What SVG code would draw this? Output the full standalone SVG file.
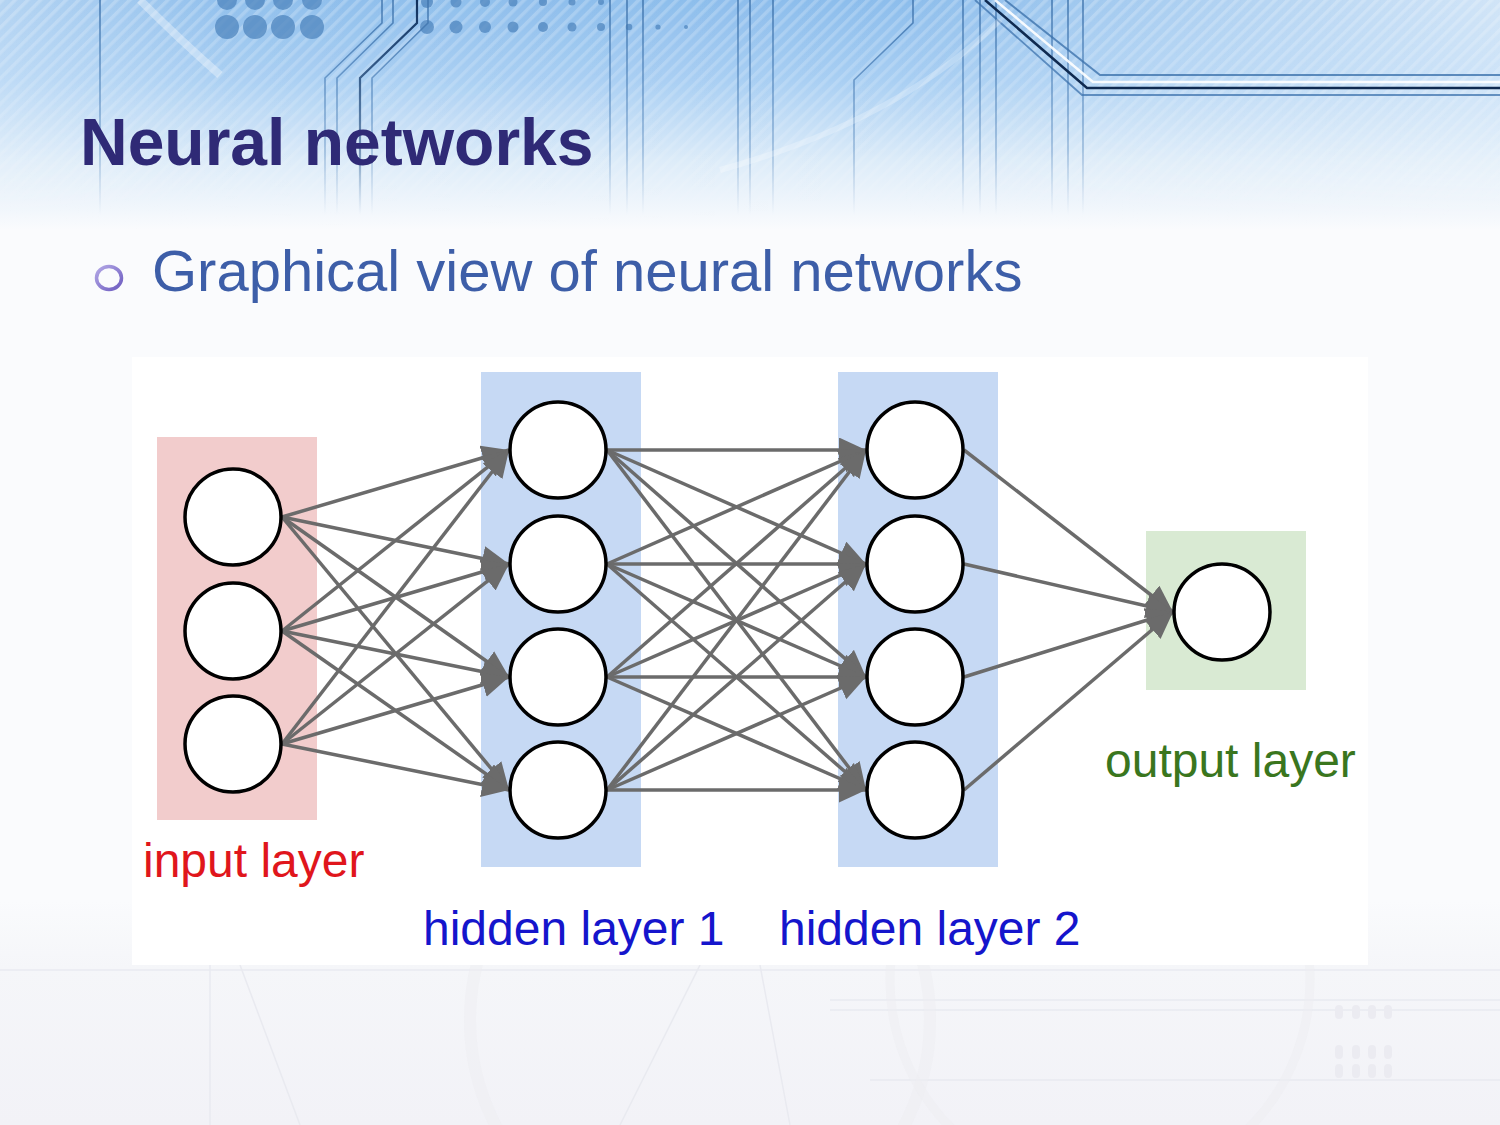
<svg xmlns="http://www.w3.org/2000/svg" width="1500" height="1125" viewBox="0 0 1500 1125">
  <defs>
    <style>
      .edge { stroke: #6b6b6b; stroke-width: 3.5; fill: none; marker-end: url(#arrow); }
      .node { fill: #ffffff; stroke: #000000; stroke-width: 3.5; }
      .lbl { font-family: "Liberation Sans", Arial, sans-serif; font-size: 48px; }
      .trace { fill: none; stroke: url(#traceFade); stroke-width: 1.6; }
      .trace-dark { fill: none; stroke: url(#traceFadeDark); stroke-width: 2.2; }
      .faint { fill: none; stroke: #e9eaf0; stroke-width: 1.5; }
    </style>
    <marker id="arrow" markerUnits="userSpaceOnUse" markerWidth="30" markerHeight="26" refX="27" refY="12.5" orient="auto">
      <path d="M0,0 L27,12.5 L0,25 Z" fill="#6b6b6b"/>
    </marker>
    <linearGradient id="skyV" x1="0" y1="0" x2="0" y2="1">
      <stop offset="0" stop-color="#8cbdec"/>
      <stop offset="0.35" stop-color="#a9cff3"/>
      <stop offset="0.7" stop-color="#ddecf9"/>
      <stop offset="1" stop-color="#fafbfd"/>
    </linearGradient>
    <linearGradient id="skyH" x1="0" y1="0" x2="1" y2="0">
      <stop offset="0" stop-color="#ffffff" stop-opacity="0.35"/>
      <stop offset="0.15" stop-color="#ffffff" stop-opacity="0.05"/>
      <stop offset="0.6" stop-color="#ffffff" stop-opacity="0"/>
      <stop offset="1" stop-color="#ffffff" stop-opacity="0.6"/>
    </linearGradient>
    <linearGradient id="skyHMaskGrad" x1="0" y1="0" x2="0" y2="1">
      <stop offset="0" stop-color="#ffffff"/>
      <stop offset="0.8" stop-color="#ffffff" stop-opacity="0.4"/>
      <stop offset="1" stop-color="#ffffff" stop-opacity="0"/>
    </linearGradient>
    <mask id="skyHMask">
      <rect x="0" y="0" width="1500" height="230" fill="url(#skyHMaskGrad)"/>
    </mask>
    <linearGradient id="traceFade" gradientUnits="userSpaceOnUse" x1="0" y1="0" x2="0" y2="215">
      <stop offset="0" stop-color="#3f74ad" stop-opacity="0.9"/>
      <stop offset="0.7" stop-color="#4a7fb8" stop-opacity="0.45"/>
      <stop offset="1" stop-color="#6a94c4" stop-opacity="0"/>
    </linearGradient>
    <linearGradient id="traceFadeDark" gradientUnits="userSpaceOnUse" x1="0" y1="0" x2="0" y2="215">
      <stop offset="0" stop-color="#0f2f5c" stop-opacity="1"/>
      <stop offset="0.7" stop-color="#1f4c80" stop-opacity="0.55"/>
      <stop offset="1" stop-color="#4a7fb8" stop-opacity="0"/>
    </linearGradient>
    <linearGradient id="bottomFade" x1="0" y1="0" x2="0" y2="1">
      <stop offset="0" stop-color="#fafbfd"/>
      <stop offset="0.3" stop-color="#f5f6f9"/>
      <stop offset="1" stop-color="#f2f2f7"/>
    </linearGradient>
    <pattern id="stripes" patternUnits="userSpaceOnUse" width="9" height="9" patternTransform="rotate(45)">
      <rect x="0" y="0" width="3.5" height="9" fill="#ffffff" opacity="0.22"/>
    </pattern>
    <linearGradient id="stripeMaskGrad" x1="0" y1="0" x2="0" y2="1">
      <stop offset="0" stop-color="#ffffff"/>
      <stop offset="0.75" stop-color="#ffffff" stop-opacity="0.5"/>
      <stop offset="1" stop-color="#ffffff" stop-opacity="0"/>
    </linearGradient>
    <mask id="stripeMask">
      <rect x="0" y="0" width="1500" height="230" fill="url(#stripeMaskGrad)"/>
    </mask>
    <linearGradient id="bulletGrad" x1="0" y1="0" x2="1" y2="1">
      <stop offset="0" stop-color="#b3a8e6"/>
      <stop offset="1" stop-color="#6d5cc0"/>
    </linearGradient>
  </defs>

  <!-- background -->
  <g id="background">
    <rect x="0" y="0" width="1500" height="1125" fill="#fafbfd"/>
    <rect x="0" y="900" width="1500" height="225" fill="url(#bottomFade)"/>
    <rect x="0" y="0" width="1500" height="230" fill="url(#skyV)"/>
    <rect x="0" y="0" width="1500" height="230" fill="url(#skyH)" mask="url(#skyHMask)"/>
    <rect x="0" y="0" width="1500" height="230" fill="url(#stripes)" mask="url(#stripeMask)"/>
    <!-- dots -->
    <g fill="#4f86bf" opacity="0.75">
      <circle cx="227" cy="27" r="12"/><circle cx="255" cy="27" r="12"/><circle cx="283" cy="27" r="12"/><circle cx="312" cy="27" r="12"/>
      <circle cx="227" cy="0" r="10"/><circle cx="255" cy="0" r="10"/><circle cx="283" cy="0" r="10"/><circle cx="312" cy="0" r="10"/>
      <circle cx="427" cy="27" r="7"/><circle cx="456" cy="27" r="6.5"/><circle cx="485" cy="27" r="6"/><circle cx="513" cy="27" r="5.5"/>
      <circle cx="543" cy="27" r="5"/><circle cx="572" cy="27" r="4.5"/><circle cx="601" cy="27" r="4"/><circle cx="629" cy="27" r="3.3"/>
      <circle cx="658" cy="27" r="2.6"/><circle cx="686" cy="27" r="2"/>
      <circle cx="427" cy="2" r="6"/><circle cx="456" cy="2" r="5.5"/><circle cx="485" cy="2" r="5"/><circle cx="513" cy="2" r="4.5"/>
      <circle cx="543" cy="2" r="4"/><circle cx="572" cy="2" r="3.5"/><circle cx="601" cy="2" r="3"/>
    </g>
    <!-- circuit traces -->
    <path class="trace" d="M325,215 V78 L382,23 V0"/>
    <path class="trace" d="M337,215 V78 L393,23 V0"/>
    <path class="trace-dark" d="M360,215 V78 L417,23 V0"/>
    <path class="trace" d="M372,215 V78 L428,23 V0"/>
    <path class="trace" d="M100,215 V0"/>
    <path class="trace" d="M610,215 V0"/>
    <path class="trace" d="M627,215 V0"/>
    <path class="trace" d="M643,215 V0"/>
    <path class="trace" d="M738,215 V0"/>
    <path class="trace" d="M750,215 V0"/>
    <path class="trace" d="M773,215 V0"/>
    <path class="trace" d="M854,215 V80 L913,23 V0"/>
    <path class="trace" d="M963,215 V0"/>
    <path class="trace" d="M980,215 V0"/>
    <path class="trace" d="M996,215 V0"/>
    <path class="trace" d="M1052,215 V0"/>
    <path class="trace" d="M1068,215 V0"/>
    <path class="trace" d="M1083,215 V0"/>
    <path d="M1005,0 L1100,75 H1500" fill="none" stroke="#3d73ad" stroke-width="2" opacity="0.8"/>
    <path d="M995,0 L1093,82 H1500" fill="none" stroke="#ffffff" stroke-width="2.5" opacity="0.9"/>
    <path d="M985,0 L1087,88 H1500" fill="none" stroke="#0f2a50" stroke-width="2.5"/>
    <path d="M975,0 L1082,95 H1500" fill="none" stroke="#3d73ad" stroke-width="1.8" opacity="0.75"/>
    <!-- faint white arcs -->
    <path d="M140,0 Q180,40 220,75" fill="none" stroke="#ffffff" stroke-width="8" opacity="0.35"/>
    <path d="M720,170 Q900,120 1000,20" fill="none" stroke="#ffffff" stroke-width="6" opacity="0.25"/>
    <!-- faint bottom circuit pattern -->
    <path class="faint" d="M0,970 H1500"/>
    <path class="faint" d="M210,965 V1125"/>
    <path class="faint" d="M240,965 L300,1125"/>
    <path class="faint" d="M700,965 L620,1125"/>
    <path class="faint" d="M760,965 L790,1125"/>
    <path class="faint" d="M830,1000 H1500"/>
    <path class="faint" d="M830,1010 H1500"/>
    <path class="faint" d="M870,1080 H1500"/>
    <circle cx="700" cy="1020" r="230" fill="none" stroke="#ededf2" stroke-width="12" opacity="0.5"/>
    <circle cx="1100" cy="980" r="210" fill="none" stroke="#ededf2" stroke-width="9" opacity="0.5"/>
    <g fill="#ebebf1">
      <rect x="1335" y="1005" width="8" height="14" rx="4"/><rect x="1352" y="1005" width="8" height="14" rx="4"/><rect x="1368" y="1005" width="8" height="14" rx="4"/><rect x="1384" y="1005" width="8" height="14" rx="4"/>
      <rect x="1335" y="1045" width="8" height="14" rx="4"/><rect x="1352" y="1045" width="8" height="14" rx="4"/><rect x="1368" y="1045" width="8" height="14" rx="4"/><rect x="1384" y="1045" width="8" height="14" rx="4"/>
      <rect x="1335" y="1064" width="8" height="14" rx="4"/><rect x="1352" y="1064" width="8" height="14" rx="4"/><rect x="1368" y="1064" width="8" height="14" rx="4"/><rect x="1384" y="1064" width="8" height="14" rx="4"/>
    </g>
  </g>

  <!-- title and bullet -->
  <g id="title">
    <text x="80" y="165" font-family="'Liberation Sans', Arial, sans-serif" font-size="66" font-weight="bold" fill="#2f2a76">Neural networks</text>
  </g>
  <g id="bullet">
    <ellipse cx="109" cy="278" rx="12.5" ry="11.5" fill="none" stroke="url(#bulletGrad)" stroke-width="3.5"/>
    <text x="152" y="291" font-family="'Liberation Sans', Arial, sans-serif" font-size="58" fill="#3d5ea8">Graphical view of neural networks</text>
  </g>

  <!-- diagram panel -->
  <rect id="panel" x="132" y="357" width="1236" height="608" fill="#ffffff"/>

  <!-- layer backgrounds -->
  <g id="layer-input-bg"><rect x="157" y="437" width="160" height="383" fill="#f2cccc"/></g>
  <g id="layer-hidden1-bg"><rect x="481" y="372" width="160" height="495" fill="#c6d9f4"/></g>
  <g id="layer-hidden2-bg"><rect x="838" y="372" width="160" height="495" fill="#c6d9f4"/></g>
  <g id="layer-output-bg"><rect x="1146" y="531" width="160" height="159" fill="#d9ead3"/></g>

  <!-- connectors -->
  <g id="connectors">
    <!-- input -> hidden1 -->
    <line class="edge" x1="282" y1="517" x2="509" y2="450"/>
    <line class="edge" x1="282" y1="517" x2="509" y2="564"/>
    <line class="edge" x1="282" y1="517" x2="509" y2="677"/>
    <line class="edge" x1="282" y1="517" x2="509" y2="790"/>
    <line class="edge" x1="282" y1="631" x2="509" y2="450"/>
    <line class="edge" x1="282" y1="631" x2="509" y2="564"/>
    <line class="edge" x1="282" y1="631" x2="509" y2="677"/>
    <line class="edge" x1="282" y1="631" x2="509" y2="790"/>
    <line class="edge" x1="282" y1="744" x2="509" y2="450"/>
    <line class="edge" x1="282" y1="744" x2="509" y2="564"/>
    <line class="edge" x1="282" y1="744" x2="509" y2="677"/>
    <line class="edge" x1="282" y1="744" x2="509" y2="790"/>
    <!-- hidden1 -> hidden2 -->
    <line class="edge" x1="607" y1="450" x2="866" y2="450"/>
    <line class="edge" x1="607" y1="450" x2="866" y2="564"/>
    <line class="edge" x1="607" y1="450" x2="866" y2="677"/>
    <line class="edge" x1="607" y1="450" x2="866" y2="790"/>
    <line class="edge" x1="607" y1="564" x2="866" y2="450"/>
    <line class="edge" x1="607" y1="564" x2="866" y2="564"/>
    <line class="edge" x1="607" y1="564" x2="866" y2="677"/>
    <line class="edge" x1="607" y1="564" x2="866" y2="790"/>
    <line class="edge" x1="607" y1="677" x2="866" y2="450"/>
    <line class="edge" x1="607" y1="677" x2="866" y2="564"/>
    <line class="edge" x1="607" y1="677" x2="866" y2="677"/>
    <line class="edge" x1="607" y1="677" x2="866" y2="790"/>
    <line class="edge" x1="607" y1="790" x2="866" y2="450"/>
    <line class="edge" x1="607" y1="790" x2="866" y2="564"/>
    <line class="edge" x1="607" y1="790" x2="866" y2="677"/>
    <line class="edge" x1="607" y1="790" x2="866" y2="790"/>
    <!-- hidden2 -> output -->
    <line class="edge" x1="964" y1="450" x2="1173" y2="612"/>
    <line class="edge" x1="964" y1="564" x2="1173" y2="612"/>
    <line class="edge" x1="964" y1="677" x2="1173" y2="612"/>
    <line class="edge" x1="964" y1="790" x2="1173" y2="612"/>
  </g>

  <!-- nodes -->
  <g id="input-1"><circle class="node" cx="233" cy="517" r="48"/></g>
  <g id="input-2"><circle class="node" cx="233" cy="631" r="48"/></g>
  <g id="input-3"><circle class="node" cx="233" cy="744" r="48"/></g>
  <g id="hidden1-1"><circle class="node" cx="558" cy="450" r="48"/></g>
  <g id="hidden1-2"><circle class="node" cx="558" cy="564" r="48"/></g>
  <g id="hidden1-3"><circle class="node" cx="558" cy="677" r="48"/></g>
  <g id="hidden1-4"><circle class="node" cx="558" cy="790" r="48"/></g>
  <g id="hidden2-1"><circle class="node" cx="915" cy="450" r="48"/></g>
  <g id="hidden2-2"><circle class="node" cx="915" cy="564" r="48"/></g>
  <g id="hidden2-3"><circle class="node" cx="915" cy="677" r="48"/></g>
  <g id="hidden2-4"><circle class="node" cx="915" cy="790" r="48"/></g>
  <g id="output-1"><circle class="node" cx="1222" cy="612" r="48"/></g>

  <!-- labels -->
  <g id="labels">
    <text class="lbl" x="143" y="877" fill="#e0161c">input layer</text>
    <text class="lbl" x="423" y="945" fill="#1515cc">hidden layer 1</text>
    <text class="lbl" x="779" y="945" fill="#1515cc">hidden layer 2</text>
    <text class="lbl" x="1105" y="777" fill="#3a761e">output layer</text>
  </g>
</svg>
